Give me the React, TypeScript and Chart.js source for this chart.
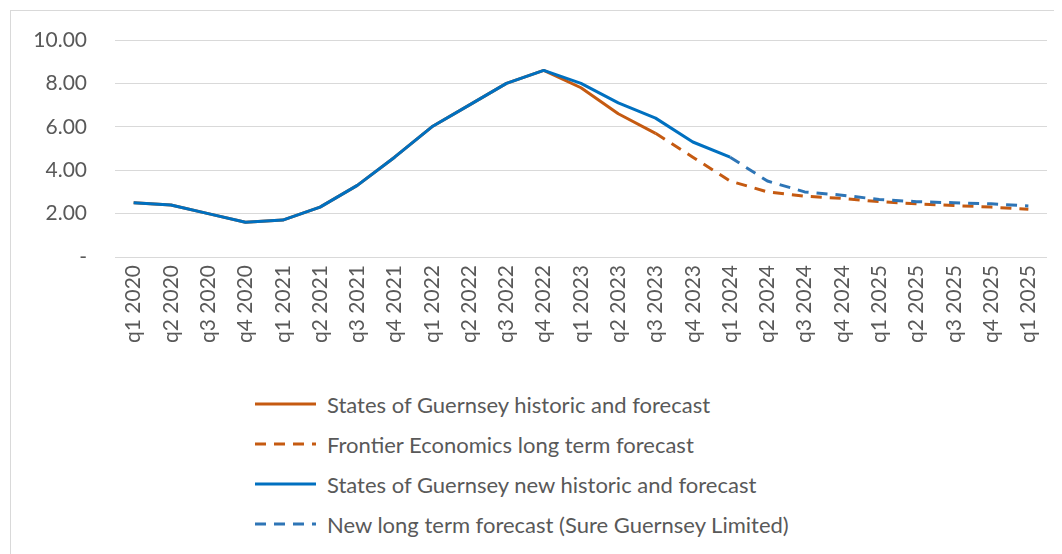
import React, { useEffect, useRef } from "react";
import { Chart, registerables } from "chart.js";

Chart.register(...registerables);

const categories = [
  "q1 2020", "q2 2020", "q3 2020", "q4 2020",
  "q1 2021", "q2 2021", "q3 2021", "q4 2021",
  "q1 2022", "q2 2022", "q3 2022", "q4 2022",
  "q1 2023", "q2 2023", "q3 2023", "q4 2023",
  "q1 2024", "q2 2024", "q3 2024", "q4 2024",
  "q1 2025", "q2 2025", "q3 2025", "q4 2025",
  "q1 2025",
];

const N = null;

const sogHistoric = [2.5, 2.4, 2.0, 1.6, 1.7, 2.3, 3.3, 4.6, 6.0, 7.0, 8.0, 8.6, 7.8, 6.6, 5.7, N, N, N, N, N, N, N, N, N, N];
const frontierForecast = [N, N, N, N, N, N, N, N, N, N, N, N, N, N, 5.7, 4.6, 3.5, 3.0, 2.8, 2.7, 2.55, 2.45, 2.37, 2.3, 2.2];
const sogNewHistoric = [2.5, 2.4, 2.0, 1.6, 1.7, 2.3, 3.3, 4.6, 6.0, 7.0, 8.0, 8.6, 8.0, 7.1, 6.4, 5.3, 4.6, N, N, N, N, N, N, N, N];
const sureForecast = [N, N, N, N, N, N, N, N, N, N, N, N, N, N, N, N, 4.6, 3.5, 3.0, 2.85, 2.65, 2.55, 2.5, 2.45, 2.35];

const yTicks = [0, 2, 4, 6, 8, 10];

const ORANGE = "#C55A11";
const BLUE = "#0070C0";
const BLUE_DASH = "#2E75B6";
const TEXT = "#595959";
const FONT = "Lato";
const DASH = [11, 8];

const legendItems = [
  { label: "States of Guernsey historic and forecast", color: ORANGE, dashed: false },
  { label: "Frontier Economics long term forecast", color: ORANGE, dashed: true },
  { label: "States of Guernsey new historic and forecast", color: BLUE, dashed: false },
  { label: "New long term forecast (Sure Guernsey Limited)", color: BLUE_DASH, dashed: true },
];

export default function App() {
  const ref = useRef<HTMLCanvasElement | null>(null);

  useEffect(() => {
    document.body.style.overflow = "hidden";
    document.documentElement.style.overflow = "hidden";
    const canvas = ref.current;
    if (!canvas) return;
    const chart = new Chart(canvas, {
      type: "line",
      data: {
        labels: categories,
        datasets: [
          { label: legendItems[2].label, data: sogNewHistoric, borderColor: BLUE, borderWidth: 3, order: 0 },
          { label: legendItems[3].label, data: sureForecast, borderColor: BLUE_DASH, borderWidth: 3, borderDash: DASH, order: 1 },
          { label: legendItems[0].label, data: sogHistoric, borderColor: ORANGE, borderWidth: 3, order: 2 },
          { label: legendItems[1].label, data: frontierForecast, borderColor: ORANGE, borderWidth: 3, borderDash: DASH, order: 3 },
        ],
      },
      options: {
        animation: false,
        responsive: false,
        devicePixelRatio: 1,
        spanGaps: false,
        elements: {
          point: { radius: 0, hoverRadius: 0 },
          line: { tension: 0, fill: false, borderJoinStyle: "round" },
        },
        layout: { padding: { top: 29, right: 24, bottom: 0, left: 0 } },
        plugins: {
          legend: { display: false },
          title: { display: false },
          tooltip: { enabled: false },
        },
        scales: {
          x: {
            offset: true,
            grid: { display: false, drawTicks: false },
            border: { display: false },
            ticks: {
              autoSkip: false,
              maxRotation: 90,
              minRotation: 90,
              padding: 8,
              color: TEXT,
              font: { family: FONT, size: 21 },
            },
            afterFit: (scale: any) => {
              scale.height = 114;
            },
          },
          y: {
            min: 0,
            max: 10,
            afterBuildTicks: (scale: any) => {
              scale.ticks = yTicks.map((v) => ({ value: v }));
            },
            grid: { color: "#d9d9d9", lineWidth: 1, drawTicks: false },
            border: { display: false },
            ticks: {
              padding: 28,
              color: TEXT,
              font: { family: FONT, size: 21 },
              callback: (v: any) => (Number(v) === 0 ? "-" : Number(v).toFixed(2)),
            },
            afterFit: (scale: any) => {
              scale.width = 104;
              scale.paddingTop = 12;
              scale.paddingBottom = 12;
            },
          },
        },
      },
    });
    return () => chart.destroy();
  }, []);

  return (
    <div
      style={{
        position: "relative",
        left: 2,
        top: 2,
        width: 1100,
        height: 600,
        border: "1px solid #d9d9d9",
        boxSizing: "border-box",
        background: "#fff",
      }}
    >
      <canvas ref={ref} width={1060} height={360} style={{ position: "absolute", left: 0, top: 0, display: "block" }} />
      {legendItems.map((it, i) => (
        <div
          key={i}
          style={{
            position: "absolute",
            left: 244,
            top: 393 + i * 40 - 15,
            height: 30,
            display: "flex",
            alignItems: "center",
            fontFamily: FONT,
            fontSize: 22,
            color: TEXT,
            whiteSpace: "nowrap",
          }}
        >
          <svg width={62} height={10} style={{ display: "block" }}>
            <line
              x1={0}
              y1={5}
              x2={61}
              y2={5}
              stroke={it.color}
              strokeWidth={3}
              strokeDasharray={it.dashed ? DASH.join(" ") : undefined}
            />
          </svg>
          <span style={{ marginLeft: 10 }}>{it.label}</span>
        </div>
      ))}
    </div>
  );
}
